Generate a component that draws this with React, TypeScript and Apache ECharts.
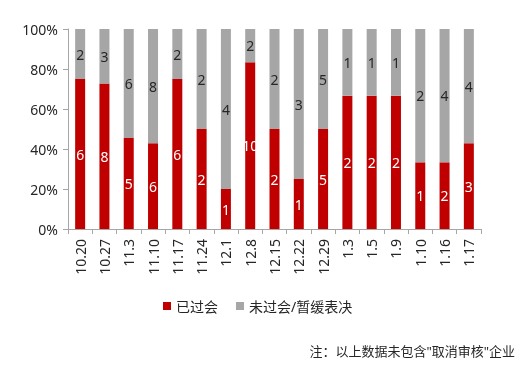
import React, { useEffect, useRef } from "react";
import * as echarts from "echarts";

const categories = ["10.20", "10.27", "11.3", "11.10", "11.17", "11.24", "12.1", "12.8", "12.15", "12.22", "12.29", "1.3", "1.5", "1.9", "1.10", "1.16", "1.17"];
const passedCounts = [6, 8, 5, 6, 6, 2, 1, 10, 2, 1, 5, 2, 2, 2, 1, 2, 3];
const notPassedCounts = [2, 3, 6, 8, 2, 2, 4, 2, 2, 3, 5, 1, 1, 1, 2, 4, 4];
const seriesNames = ["已过会", "未过会/暂缓表决"];
const noteText = "注：以上数据未包含\"取消审核\"企业";

const FONT = "'Noto Sans', 'Noto Sans CJK SC', sans-serif";

export default function App() {
  const ref = useRef<HTMLDivElement>(null);
  useEffect(() => {
    if (!ref.current) return;
    const chart = echarts.init(ref.current, null, { renderer: "svg" });
    const totals = passedCounts.map((v, i) => v + notPassedCounts[i]);
    const passedPct = passedCounts.map((v, i) => ({ value: (v / totals[i]) * 100, count: v }));
    const notPct = notPassedCounts.map((v, i) => ({ value: (v / totals[i]) * 100, count: v }));
    chart.setOption({
      animation: false,
      textStyle: { fontFamily: FONT },
      grid: { left: 68, right: 42, top: 29, bottom: 146 },
      legend: {
        left: 158,
        top: 294,
        icon: "rect",
        itemWidth: 8,
        itemHeight: 8,
        itemGap: 18,
        textStyle: { fontSize: 14, color: "#262626", fontFamily: FONT },
        data: seriesNames,
      },
      xAxis: {
        type: "category",
        data: categories,
        axisLine: { lineStyle: { color: "#a6a6a6" } },
        axisTick: { show: true, length: 5, alignWithLabel: false, lineStyle: { color: "#a6a6a6" } },
        axisLabel: { rotate: 90, fontSize: 14, color: "#262626", margin: 10, interval: 0, fontFamily: FONT },
      },
      yAxis: {
        type: "value",
        min: 0,
        max: 100,
        interval: 20,
        splitLine: { show: false },
        axisLine: { show: true, lineStyle: { color: "#a6a6a6" } },
        axisTick: { show: true, length: 5, lineStyle: { color: "#a6a6a6" } },
        axisLabel: { formatter: "{value}%", fontSize: 14, color: "#262626", margin: 10, fontFamily: FONT },
      },
      graphic: [
        {
          type: "text",
          right: 8,
          top: 344,
          style: { text: noteText, fontSize: 13, fill: "#262626", fontFamily: FONT },
        },
      ],
      series: [
        {
          name: seriesNames[0],
          type: "bar",
          stack: "total",
          barWidth: 10,
          data: passedPct,
          itemStyle: { color: "#c00000" },
          label: {
            show: true,
            position: "inside",
            color: "#ffffff",
            fontSize: 14,
            fontFamily: FONT,
            formatter: (p: any) => String(p.data.count),
          },
        },
        {
          name: seriesNames[1],
          type: "bar",
          stack: "total",
          barWidth: 10,
          data: notPct,
          itemStyle: { color: "#a6a6a6" },
          label: {
            show: true,
            position: "inside",
            color: "#262626",
            fontSize: 14,
            fontFamily: FONT,
            formatter: (p: any) => String(p.data.count),
          },
        },
      ],
    });
    return () => chart.dispose();
  }, []);
  return <div ref={ref} style={{ position: "fixed", left: 0, top: 0, width: 523, height: 375 }} />;
}
